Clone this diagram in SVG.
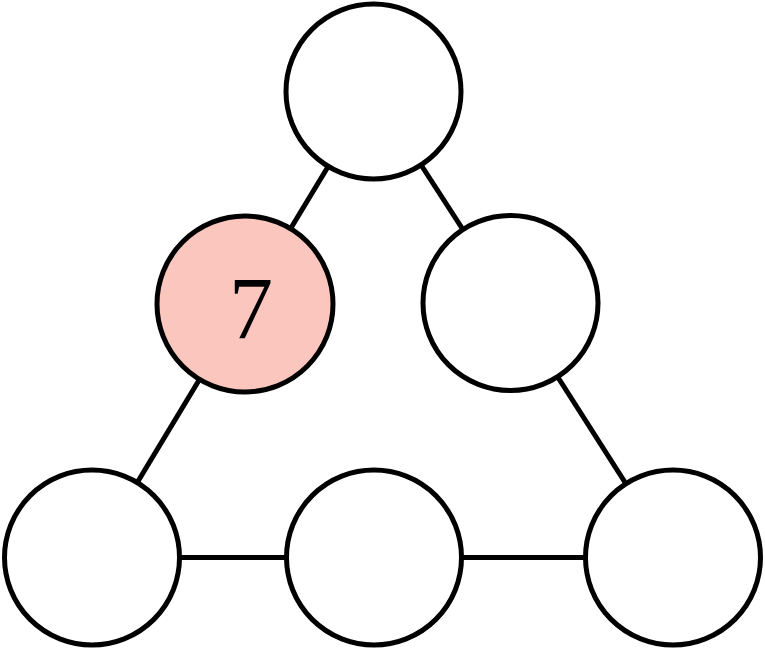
<svg xmlns="http://www.w3.org/2000/svg" width="765" height="650" viewBox="0 0 765 650">
<style>
.edge{stroke:#000;stroke-width:5;fill:none}
.node{stroke:#000;stroke-width:5;fill:#fff}
.hl{fill:#FAC6BE}
.lbl{font-family:"Liberation Serif","DejaVu Serif",serif;font-size:88px;fill:#000;text-anchor:middle}
</style>
<rect width="765" height="650" fill="#fff"/>
<g id="connectors">
<line class="edge" x1="373.5" y1="91.5" x2="245" y2="304"/>
<line class="edge" x1="373.5" y1="91.5" x2="510.5" y2="303"/>
<line class="edge" x1="245" y1="304" x2="92" y2="557.5"/>
<line class="edge" x1="510.5" y1="303" x2="673" y2="557.5"/>
<line class="edge" x1="92" y1="557.5" x2="374" y2="557.5"/>
<line class="edge" x1="374" y1="557.5" x2="673" y2="557.5"/>
</g>
<g id="n-top"><circle class="node" cx="373.5" cy="91.5" r="87.5"/></g>
<g id="n-left"><circle class="node hl" cx="245" cy="304" r="88"/><text class="lbl" x="251" y="338">7</text></g>
<g id="n-right"><circle class="node" cx="510.5" cy="303" r="87.5"/></g>
<g id="n-bl"><circle class="node" cx="92" cy="557.5" r="87.5"/></g>
<g id="n-bm"><circle class="node" cx="374" cy="557.5" r="87.5"/></g>
<g id="n-br"><circle class="node" cx="673" cy="557.5" r="87.5"/></g>
</svg>
